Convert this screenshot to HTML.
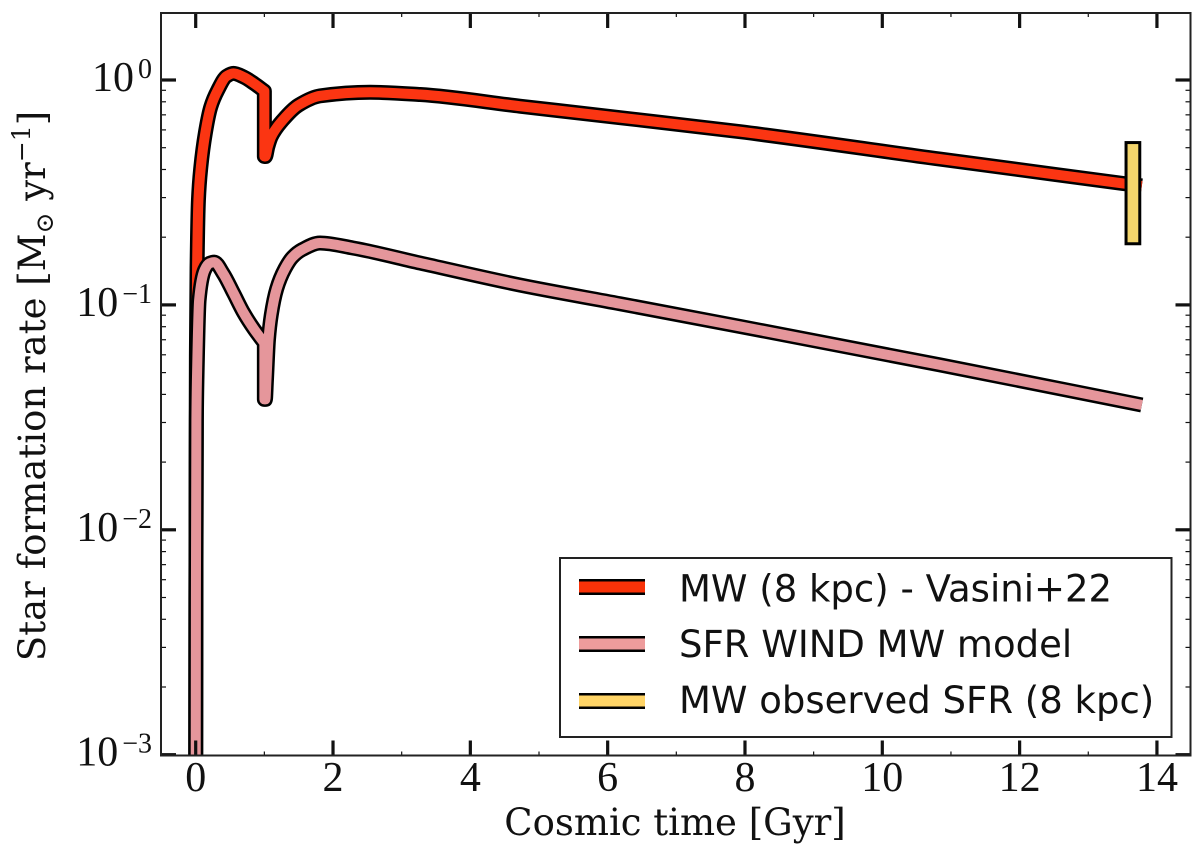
<!DOCTYPE html>
<html lang="en">
<head>
<meta charset="utf-8">
<title>Star formation rate vs cosmic time</title>
<style>
html,body{margin:0;padding:0;background:#fff;width:1200px;height:862px;overflow:hidden}
svg{display:block}
.serif{font-family:"DejaVu Serif","Liberation Serif",serif;fill:#111}
.tick-font{font-family:"Liberation Serif","DejaVu Serif",serif;fill:#111}
.sans{font-family:"DejaVu Sans","Liberation Sans",sans-serif;fill:#111}
</style>
</head>
<body>
<svg id="chart" xmlns="http://www.w3.org/2000/svg" width="1200" height="862" viewBox="0 0 1200 862">
  <defs><clipPath id="plot-clip"><rect x="161" y="13" width="1029.5" height="742.5"/></clipPath></defs>
  <rect x="0" y="0" width="1200" height="862" fill="#fff"/>
  <g id="series" clip-path="url(#plot-clip)"></g>
  <g id="axes"></g>
  <text class="serif" x="675" y="835" font-size="37" text-anchor="middle">Cosmic time [Gyr]</text>
  <text class="serif" transform="translate(45,386) rotate(-90)" font-size="37" text-anchor="middle">Star formation rate [M<tspan font-size="25" dy="8">⊙</tspan><tspan dy="-8"> yr</tspan><tspan font-size="25" dy="-15">−1</tspan><tspan dy="15">]</tspan></text>
  <g>
    <rect x="560" y="558" width="611.5" height="179" fill="#fff" stroke="#222" stroke-width="2"/>
    <g>
      <rect x="579" y="579" width="66" height="16" fill="#000"/>
      <rect x="579" y="581.5" width="66" height="11" fill="#f93208"/>
      <text class="sans" x="679" y="601.5" font-size="37">MW (8 kpc) - Vasini+22</text>
    </g>
    <g>
      <rect x="579" y="636" width="66" height="16" fill="#000"/>
      <rect x="579" y="638.5" width="66" height="11" fill="#ee9c9c"/>
      <text class="sans" x="679" y="657" font-size="37">SFR WIND MW model</text>
    </g>
    <g>
      <rect x="579" y="693" width="66" height="16" fill="#000"/>
      <rect x="579" y="695.5" width="66" height="11" fill="#ffd466"/>
      <text class="sans" x="679" y="713" font-size="37">MW observed SFR (8 kpc)</text>
    </g>
  </g>
</svg>
<script>
// Chart data (Gyr, Msun/yr)
const xMajorTicks = [0, 2, 4, 6, 8, 10, 12, 14];
const xMinorTicks = [1, 3, 5, 7, 9, 11, 13];
const yDecades = [0, -1, -2, -3];
const yMinorFactors = [2, 3, 4, 5, 6, 7, 8, 9];
const mwTimes = [0, 0.003, 0.006, 0.01, 0.02, 0.04, 0.075, 0.14, 0.22, 0.32, 0.45, 0.55, 0.7, 0.85, 1.0, 1.0, 1.015, 1.05, 1.1, 1.27, 1.5, 1.81, 2.54, 3.27, 4.72, 6.18, 7.93, 10.84, 13.5, 13.78];
const mwValues = [0.0008, 0.005, 0.02, 0.06, 0.147, 0.293, 0.41, 0.58, 0.76, 0.90, 1.04, 1.07, 1.03, 0.965, 0.893, 0.457, 0.457, 0.505, 0.56, 0.664, 0.774, 0.85, 0.882, 0.862, 0.765, 0.68, 0.589, 0.445, 0.347, 0.338];
const windTimes = [0, 0.003, 0.01, 0.02, 0.05, 0.13, 0.2, 0.27, 0.4, 0.55, 0.7, 0.85, 1.0, 1.0, 1.015, 1.03, 1.06, 1.1, 1.18, 1.3, 1.41, 1.55, 1.81, 2.29, 3.27, 4.72, 6.18, 7.93, 10.84, 13.78];
const windValues = [0.0008, 0.005, 0.0307, 0.0497, 0.105, 0.143, 0.153, 0.155, 0.138, 0.113, 0.092, 0.078, 0.0677, 0.038, 0.038, 0.046, 0.07, 0.09, 0.118, 0.145, 0.163, 0.176, 0.1885, 0.179, 0.1535, 0.1226, 0.1012, 0.0802, 0.0541, 0.0359];
const observedTime = [13.55, 13.75];
const observedRange = [0.187, 0.527];

const NS = 'http://www.w3.org/2000/svg';
const xScale = t => 195.7 + t * 68.66;
const yScale = v => 80 - Math.log10(v) * 224.9;
const axisLeft = 161, axisRight = 1190.5, axisTop = 13, axisBottom = 755.5;
const seriesG = document.getElementById('series');
const axesG = document.getElementById('axes');

// Monotone cubic interpolation through one run of screen points
function monotoneRun(px, py) {
  const n = px.length;
  if (n < 3) return px.map((x, i) => 'L' + x.toFixed(2) + ' ' + py[i].toFixed(2)).join(' ');
  const h = [], s = [], m = [];
  for (let i = 0; i < n - 1; i++) {
    h[i] = px[i + 1] - px[i];
    s[i] = (py[i + 1] - py[i]) / h[i];
  }
  m[0] = s[0];
  m[n - 1] = s[n - 2];
  for (let i = 1; i < n - 1; i++) {
    if (s[i - 1] * s[i] <= 0) { m[i] = 0; continue; }
    const w1 = 2 * h[i] + h[i - 1], w2 = h[i] + 2 * h[i - 1];
    m[i] = (w1 + w2) / (w1 / s[i - 1] + w2 / s[i]);
  }
  let d = '';
  for (let i = 0; i < n - 1; i++) {
    d += ' C' + (px[i] + h[i] / 3).toFixed(2) + ' ' + (py[i] + m[i] * h[i] / 3).toFixed(2) + ' ' +
      (px[i + 1] - h[i] / 3).toFixed(2) + ' ' + (py[i + 1] - m[i + 1] * h[i] / 3).toFixed(2) + ' ' +
      px[i + 1].toFixed(2) + ' ' + py[i + 1].toFixed(2);
  }
  return d;
}
function pathFrom(ts, vs) {
  let d = 'M' + xScale(ts[0]).toFixed(2) + ' ' + yScale(vs[0]).toFixed(2);
  let runX = [], runY = [];
  ts.forEach((t, i) => {
    if (i && t === ts[i - 1]) {
      d += ' ' + monotoneRun(runX, runY);
      d += ' L' + xScale(t).toFixed(2) + ' ' + yScale(vs[i]).toFixed(2);
      runX = [];
      runY = [];
    }
    runX.push(xScale(t));
    runY.push(yScale(vs[i]));
  });
  d += ' ' + monotoneRun(runX, runY);
  return d;
}
function addCurve(ts, vs, color, name) {
  const d = pathFrom(ts, vs);
  const outline = document.createElementNS(NS, 'path');
  outline.setAttribute('d', d);
  outline.setAttribute('fill', 'none');
  outline.setAttribute('stroke', '#000');
  outline.setAttribute('stroke-width', '15');
  outline.setAttribute('stroke-linejoin', 'round');
  
  
  seriesG.appendChild(outline);
  const line = document.createElementNS(NS, 'path');
  line.setAttribute('d', d);
  line.setAttribute('fill', 'none');
  line.setAttribute('stroke', color);
  line.setAttribute('stroke-width', '10');
  line.setAttribute('stroke-linejoin', 'round');
  
  
  seriesG.appendChild(line);
}
addCurve(mwTimes, mwValues, '#fb3512', 'mw-vasini-line');
addCurve(windTimes, windValues, '#e5969b', 'wind-model-line');

const bar = document.createElementNS(NS, 'rect');
bar.setAttribute('x', xScale(observedTime[0]));
bar.setAttribute('y', yScale(observedRange[1]));
bar.setAttribute('width', xScale(observedTime[1]) - xScale(observedTime[0]));
bar.setAttribute('height', yScale(observedRange[0]) - yScale(observedRange[1]));
bar.setAttribute('fill', '#f3d56c');
bar.setAttribute('stroke', '#000');
bar.setAttribute('stroke-width', '3');


seriesG.appendChild(bar);

function tick(x1, y1, x2, y2, w, name) {
  const l = document.createElementNS(NS, 'line');
  l.setAttribute('x1', x1);
  l.setAttribute('y1', y1);
  l.setAttribute('x2', x2);
  l.setAttribute('y2', y2);
  l.setAttribute('stroke', '#111');
  l.setAttribute('stroke-width', w);
  
  
  axesG.appendChild(l);
}
xMajorTicks.forEach(t => {
  const x = xScale(t);
  tick(x, axisBottom, x, axisBottom - 15, 3.2, 'x-major-tick');
  tick(x, axisTop, x, axisTop + 15, 3.2, 'x-major-tick-top');
  const lab = document.createElementNS(NS, 'text');
  lab.setAttribute('class', 'tick-font');
  lab.setAttribute('x', x);
  lab.setAttribute('y', 791);
  lab.setAttribute('font-size', '42');
  lab.setAttribute('text-anchor', 'middle');
  
  
  lab.textContent = String(t);
  axesG.appendChild(lab);
});
xMinorTicks.forEach(t => {
  const x = xScale(t);
  tick(x, axisBottom, x, axisBottom - 4, 1.2, 'x-minor-tick');
  tick(x, axisTop, x, axisTop + 4, 1.2, 'x-minor-tick-top');
});
yDecades.forEach(e => {
  const y = yScale(Math.pow(10, e));
  tick(axisLeft, y, axisLeft + 15, y, 3.2, 'y-major-tick');
  tick(axisRight, y, axisRight - 15, y, 3.2, 'y-major-tick-right');
  yMinorFactors.forEach(f => {
    const v = f * Math.pow(10, e);
    const ym = yScale(v);
    if (ym > axisTop && ym < axisBottom) {
      tick(axisLeft, ym, axisLeft + 5, ym, 1.2, 'y-minor-tick');
      tick(axisRight, ym, axisRight - 5, ym, 1.2, 'y-minor-tick-right');
    }
  });
  const lab = document.createElementNS(NS, 'text');
  lab.setAttribute('class', 'tick-font');
  lab.setAttribute('x', 152);
  lab.setAttribute('y', y + 11);
  lab.setAttribute('font-size', '42');
  lab.setAttribute('text-anchor', 'end');
  
  
  const base = document.createElementNS(NS, 'tspan');
  base.textContent = '10';
  lab.appendChild(base);
  const sup = document.createElementNS(NS, 'tspan');
  sup.setAttribute('font-size', '28');
  sup.setAttribute('dy', '-13');
  sup.setAttribute('dx', '4');
  sup.textContent = e === 0 ? '0' : '\u2212' + Math.abs(e);
  lab.appendChild(sup);
  axesG.appendChild(lab);
});
const frame = document.createElementNS(NS, 'rect');
frame.setAttribute('x', axisLeft);
frame.setAttribute('y', axisTop);
frame.setAttribute('width', axisRight - axisLeft);
frame.setAttribute('height', axisBottom - axisTop);
frame.setAttribute('fill', 'none');
frame.setAttribute('stroke', '#222');
frame.setAttribute('stroke-width', '2');


axesG.appendChild(frame);
</script>
</body>
</html>
